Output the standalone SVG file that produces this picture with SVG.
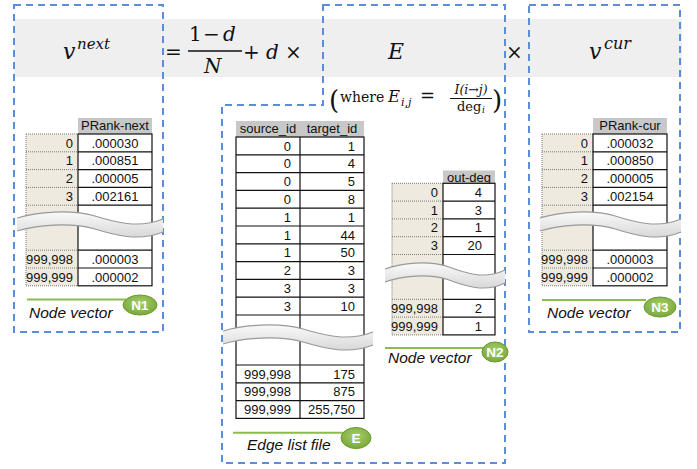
<svg xmlns="http://www.w3.org/2000/svg" width="697" height="469" viewBox="0 0 697 469">
  <style>
    .band { fill: #efefef; }
    .dash { fill: none; stroke: #5b8ed6; stroke-width: 2; stroke-dasharray: 7 5; }
    .math { font-family: "DejaVu Serif", "Liberation Serif", serif; fill: #111; }
    .it { font-style: italic; }
    .hdr { fill: #c8c8c8; }
    .idx { fill: #eeeadf; }
    .dot { fill: none; stroke: #7a7a7a; stroke-width: 1; stroke-dasharray: 1 1; }
    .cell { fill: #fff; stroke: #111; stroke-width: 1.2; }
    .rule { stroke: #111; stroke-width: 1.2; }
    .t { font-family: "Liberation Sans", Arial, sans-serif; font-size: 13px; fill: #111; }
    .r { text-anchor: end; }
    .m { text-anchor: middle; }
    .cap { font-family: "Liberation Sans", Arial, sans-serif; font-size: 15.5px; font-style: italic; fill: #111; }
    .gline { stroke: #8dbb4f; stroke-width: 2; }
    .badge { fill: url(#badgeFill); stroke: #6c9a31; stroke-width: 1; }
    .btxt { font-family: "Liberation Sans", Arial, sans-serif; font-size: 13.5px; font-weight: bold; fill: #fff; text-anchor: middle; }
  </style>
  <defs>
    <linearGradient id="waveFill" x1="0" y1="0" x2="0" y2="1">
      <stop offset="0" stop-color="#fafafa"/>
      <stop offset="1" stop-color="#d8d8d8"/>
    </linearGradient>
    <radialGradient id="badgeFill" cx="0.5" cy="0.4" r="0.6">
      <stop offset="0" stop-color="#a6cf6a"/>
      <stop offset="1" stop-color="#7aa83b"/>
    </radialGradient>
    <!-- torn "rows omitted" band laid across a table -->
    <g id="wave">
      <path d="M0,0 C20,-6 55,-9 80,-2 C100,4 125,11 150,1 L150,14 C125,24 100,17 80,11 C55,4 20,7 0,13 Z" fill="url(#waveFill)"/>
      <path d="M0,0 C20,-6 55,-9 80,-2 C100,4 125,11 150,1" fill="none" stroke="#999" stroke-width="1.2" vector-effect="non-scaling-stroke"/>
      <path d="M0,13 C20,7 55,4 80,11 C100,17 125,24 150,14" fill="none" stroke="#999" stroke-width="1.2" vector-effect="non-scaling-stroke"/>
    </g>
  </defs>

  <rect width="697" height="469" fill="#fff"/>

  <!-- formula strip -->
  <g id="formula">
    <rect class="band" x="14" y="19" width="668" height="58"/>
    <text class="math it" x="63" y="59" font-size="22">v</text>
    <text class="math it" x="77" y="49" font-size="15">next</text>
    <text class="math" x="165" y="59" font-size="20">=</text>
    <text class="math" x="189" y="41" font-size="20">1</text>
    <text class="math" x="203" y="41" font-size="20">−</text>
    <text class="math it" x="223" y="41" font-size="20">d</text>
    <line x1="188" y1="51" x2="242" y2="51" stroke="#111" stroke-width="1.3"/>
    <text class="math it" x="204" y="73" font-size="20">N</text>
    <text class="math" x="243" y="59" font-size="20">+</text>
    <text class="math it" x="266" y="59" font-size="20">d</text>
    <text class="math" x="285" y="59" font-size="20">×</text>
    <text class="math it" x="388" y="59" font-size="22">E</text>
    <text class="math" x="506" y="59" font-size="20">×</text>
    <text class="math it" x="589" y="59" font-size="22">v</text>
    <text class="math it" x="604" y="49" font-size="16">cur</text>

    <text class="math" x="329" y="109" font-size="26">(</text>
    <text class="math" x="340" y="102" font-size="14">where</text>
    <text class="math it" x="388" y="102" font-size="16.5">E</text>
    <text class="math it" x="401" y="106" font-size="11">i,j</text>
    <text class="math" x="420" y="102" font-size="18">=</text>
    <text class="math it m" x="471" y="94" font-size="12.5">I(i→j)</text>
    <line x1="450" y1="98.5" x2="492" y2="98.5" stroke="#111" stroke-width="1"/>
    <text class="math" x="457" y="111" font-size="13">deg</text>
    <text class="math it" x="482" y="113" font-size="9">i</text>
    <text class="math" x="492" y="109" font-size="26">)</text>
  </g>

  <!-- next-iteration rank vector -->
  <g id="node-n1">
    <rect class="dash" x="14" y="5" width="149" height="327"/>
    <rect class="hdr" x="78" y="118" width="74" height="16"/>
    <text class="t m" x="115" y="130">PRank-next</text>
    <rect class="idx" x="26" y="134" width="52" height="151.8"/>
    <path class="dot" d="M26,134 V285.8 M26,134 H78 M26,151.8 H78 M26,169.6 H78 M26,187.4 H78 M26,205.2 H78 M26,250.2 H78 M26,268 H78 M26,285.8 H78"/>
    <rect class="cell" x="78" y="134" width="74" height="151.8"/>
    <path class="rule" d="M78,151.8 H152 M78,169.6 H152 M78,187.4 H152 M78,205.2 H152 M78,250.2 H152 M78,268 H152"/>
    <text class="t r" x="73" y="147.5">0</text>
    <text class="t r" x="73" y="165.3">1</text>
    <text class="t r" x="73" y="183.1">2</text>
    <text class="t r" x="73" y="200.9">3</text>
    <text class="t r" x="73" y="263.7" font-size="12.8">999,998</text>
    <text class="t r" x="73" y="281.5" font-size="12.8">999,999</text>
    <text class="t m" x="115" y="147.5">.000030</text>
    <text class="t m" x="115" y="165.3">.000851</text>
    <text class="t m" x="115" y="183.1">.000005</text>
    <text class="t m" x="115" y="200.9">.002161</text>
    <text class="t m" x="115" y="263.7">.000003</text>
    <text class="t m" x="115" y="281.5">.000002</text>
    <use href="#wave" transform="translate(17,218) scale(0.973,1)"/>
    <line class="gline" x1="27" y1="299.5" x2="126" y2="299.5"/>
    <ellipse class="badge" cx="140" cy="305" rx="17" ry="10"/>
    <text class="btxt" x="140" y="310">N1</text>
    <text class="cap" x="29" y="318">Node vector</text>
  </g>

  <!-- edge list: transition matrix E -->
  <g id="node-e">
    <path class="dash" d="M323,5 H505 V463 H222 V105 H323 Z"/>
    <rect class="hdr" x="236" y="121" width="128" height="16"/>
    <text class="t m" x="268" y="133">source_id</text>
    <text class="t m" x="332" y="133">target_id</text>
    <rect class="cell" x="236" y="137" width="128" height="281.4"/>
    <path class="rule" d="M300,137 V418.4 M236,154.8 H364 M236,172.6 H364 M236,190.4 H364 M236,208.2 H364 M236,226 H364 M236,243.8 H364 M236,261.6 H364 M236,279.4 H364 M236,297.2 H364 M236,315 H364 M236,365 H364 M236,382.8 H364 M236,400.6 H364"/>
    <g class="t r">
      <text x="291" y="150.5">0</text><text x="355" y="150.5">1</text>
      <text x="291" y="168.3">0</text><text x="355" y="168.3">4</text>
      <text x="291" y="186.1">0</text><text x="355" y="186.1">5</text>
      <text x="291" y="203.9">0</text><text x="355" y="203.9">8</text>
      <text x="291" y="221.7">1</text><text x="355" y="221.7">1</text>
      <text x="291" y="239.5">1</text><text x="355" y="239.5">44</text>
      <text x="291" y="257.3">1</text><text x="355" y="257.3">50</text>
      <text x="291" y="275.1">2</text><text x="355" y="275.1">3</text>
      <text x="291" y="292.9">3</text><text x="355" y="292.9">3</text>
      <text x="291" y="310.7">3</text><text x="355" y="310.7">10</text>
      <text x="291" y="378.5">999,998</text><text x="355" y="378.5">175</text>
      <text x="291" y="396.3">999,998</text><text x="355" y="396.3">875</text>
      <text x="291" y="414.1">999,999</text><text x="355" y="414.1">255,750</text>
    </g>
    <use href="#wave" transform="translate(223,331)"/>
    <line class="gline" x1="233" y1="432.7" x2="343" y2="432.7"/>
    <ellipse class="badge" cx="356" cy="438" rx="15" ry="10.5"/>
    <text class="btxt" x="356" y="443">E</text>
    <text class="cap" x="247" y="450">Edge list file</text>
  </g>

  <!-- out-degree vector -->
  <g id="node-n2">
    <rect class="hdr" x="443" y="170.5" width="52" height="12.8"/>
    <text class="t m" x="469" y="181.5">out-deg</text>
    <rect class="idx" x="392" y="183.3" width="51" height="151.6"/>
    <path class="dot" d="M392,183.3 V334.9 M392,183.3 H443 M392,201.1 H443 M392,218.9 H443 M392,236.7 H443 M392,254.5 H443 M392,299.3 H443 M392,317.1 H443 M392,334.9 H443"/>
    <rect class="cell" x="443" y="183.3" width="52" height="151.6"/>
    <path class="rule" d="M443,201.1 H495 M443,218.9 H495 M443,236.7 H495 M443,254.5 H495 M443,299.3 H495 M443,317.1 H495"/>
    <text class="t r" x="438" y="196.8">0</text>
    <text class="t r" x="438" y="214.6">1</text>
    <text class="t r" x="438" y="232.4">2</text>
    <text class="t r" x="438" y="250.2">3</text>
    <text class="t r" x="438" y="312.8" font-size="12.8">999,998</text>
    <text class="t r" x="438" y="330.6" font-size="12.8">999,999</text>
    <text class="t r" x="482" y="196.8">4</text>
    <text class="t r" x="482" y="214.6">3</text>
    <text class="t r" x="482" y="232.4">1</text>
    <text class="t r" x="482" y="250.2">20</text>
    <text class="t r" x="482" y="312.8">2</text>
    <text class="t r" x="482" y="330.6">1</text>
    <use href="#wave" transform="translate(385,269) scale(0.8,1)"/>
    <line class="gline" x1="385" y1="348" x2="485" y2="348"/>
    <ellipse class="badge" cx="495" cy="352" rx="13" ry="10"/>
    <text class="btxt" x="495" y="357">N2</text>
    <text class="cap" x="388" y="363">Node vector</text>
  </g>

  <!-- current-iteration rank vector -->
  <g id="node-n3">
    <rect class="dash" x="529" y="5" width="151" height="327"/>
    <rect class="hdr" x="593" y="118" width="74" height="16"/>
    <text class="t m" x="630" y="130">PRank-cur</text>
    <rect class="idx" x="542" y="134" width="51" height="151.8"/>
    <path class="dot" d="M542,134 V285.8 M542,134 H593 M542,151.8 H593 M542,169.6 H593 M542,187.4 H593 M542,205.2 H593 M542,250.2 H593 M542,268 H593 M542,285.8 H593"/>
    <rect class="cell" x="593" y="134" width="74" height="151.8"/>
    <path class="rule" d="M593,151.8 H667 M593,169.6 H667 M593,187.4 H667 M593,205.2 H667 M593,250.2 H667 M593,268 H667"/>
    <text class="t r" x="588" y="147.5">0</text>
    <text class="t r" x="588" y="165.3">1</text>
    <text class="t r" x="588" y="183.1">2</text>
    <text class="t r" x="588" y="200.9">3</text>
    <text class="t r" x="588" y="263.7" font-size="12.8">999,998</text>
    <text class="t r" x="588" y="281.5" font-size="12.8">999,999</text>
    <text class="t m" x="630" y="147.5">.000032</text>
    <text class="t m" x="630" y="165.3">.000850</text>
    <text class="t m" x="630" y="183.1">.000005</text>
    <text class="t m" x="630" y="200.9">.002154</text>
    <text class="t m" x="630" y="263.7">.000003</text>
    <text class="t m" x="630" y="281.5">.000002</text>
    <use href="#wave" transform="translate(540,218) scale(0.94,1)"/>
    <line class="gline" x1="542" y1="300" x2="646" y2="300"/>
    <ellipse class="badge" cx="660" cy="307" rx="16" ry="10"/>
    <text class="btxt" x="660" y="312">N3</text>
    <text class="cap" x="547" y="318">Node vector</text>
  </g>

  <g id="connectors"/>
</svg>
